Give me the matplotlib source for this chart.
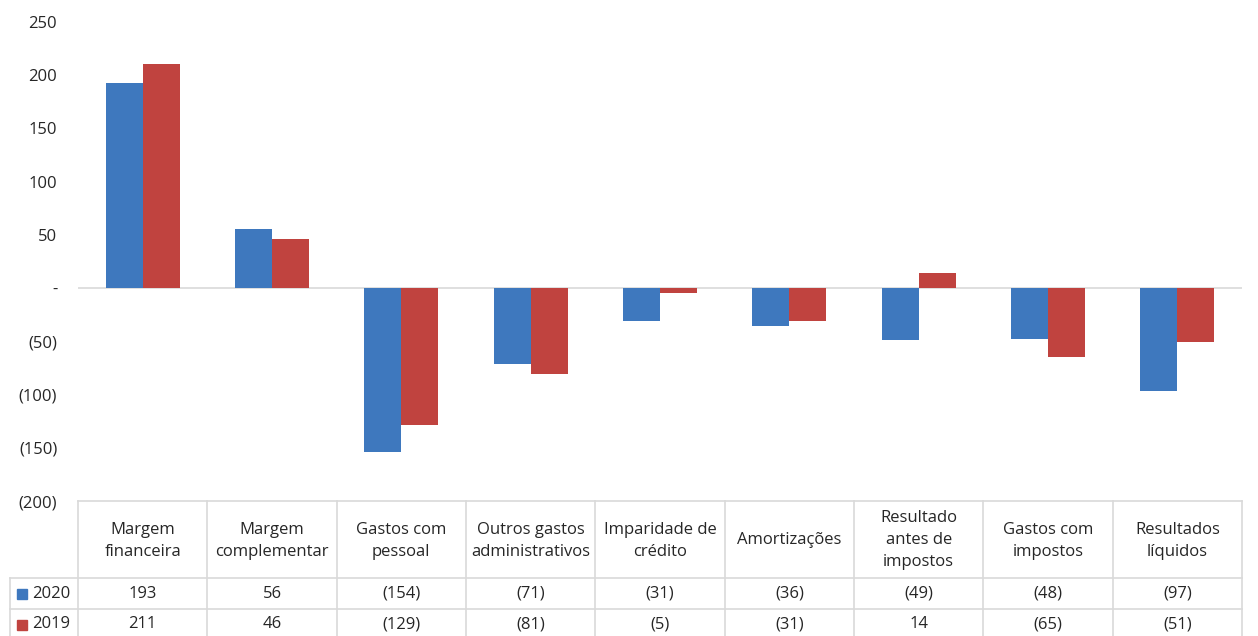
import matplotlib
matplotlib.use("Agg")
import matplotlib.pyplot as plt
import numpy as np

plt.rcParams['font.family'] = ['Open Sans', 'DejaVu Sans']

categories = ["Margem\nfinanceira", "Margem\ncomplementar", "Gastos com\npessoal",
              "Outros gastos\nadministrativos", "Imparidade de\ncrédito", "Amortizações",
              "Resultado\nantes de\nimpostos", "Gastos com\nimpostos", "Resultados\nlíquidos"]
series_names = ["2020", "2019"]
values_2020 = [193, 56, -154, -71, -31, -36, -49, -48, -97]
values_2019 = [211, 46, -129, -81, -5, -31, 14, -65, -51]
y_ticks = [250, 200, 150, 100, 50, 0, -50, -100, -150, -200]

colors = ["#3E78BE", "#C0433F"]
text_color = "#262626"
grid_color = "#D9D9D9"
fs = 12


def fmt(v):
    if v == 0:
        return "-"
    return f"({abs(v)})" if v < 0 else f"{v}"


W, H = 1258, 636
fig = plt.figure(figsize=(W / 100, H / 100), dpi=100)

left, right = 78 / W, 1242 / W
top_px, zero_bottom_px = 22, 501
ax = fig.add_axes([left, 1 - zero_bottom_px / H, right - left, (zero_bottom_px - top_px) / H])

x = np.arange(len(categories))
bw = 0.286
ax.bar(x - bw / 2, values_2020, width=bw, color=colors[0], edgecolor="none")
ax.bar(x + bw / 2, values_2019, width=bw, color=colors[1], edgecolor="none")
ax.axhline(0, color=grid_color, lw=1.2, zorder=0)

ax.set_xlim(-0.5, len(categories) - 0.5)
ax.set_ylim(-200, 250)
ax.set_yticks(y_ticks)
ax.set_yticklabels([fmt(v) for v in y_ticks], fontsize=fs, color=text_color)
ax.tick_params(axis="y", length=0, pad=15)
ax.tick_params(axis="x", length=0, labelbottom=False)
for s in ax.spines.values():
    s.set_visible(False)

# data table below the plot
tax = fig.add_axes([left, 0, right - left, (H - zero_bottom_px) / H])
tax.set_xlim(-0.5, len(categories) - 0.5)
tax.set_ylim(H - zero_bottom_px, 0)
tax.axis("off")

cat_px = (1242 - 78) / len(categories)
header_h, row_h = 77, 31
legend_left = -0.5 - (78 - 10) / cat_px
n = len(categories)
kw = dict(color=grid_color, lw=1.2, clip_on=False)

tax.plot([-0.5, n - 0.5], [0, 0], **kw)
for r in range(1, 4):
    yy = header_h + (r - 1) * row_h
    tax.plot([legend_left, n - 0.5], [yy, yy], **kw)
for i in range(n + 1):
    tax.plot([i - 0.5, i - 0.5], [0, header_h + 2 * row_h], **kw)
tax.plot([legend_left, legend_left], [header_h, header_h + 2 * row_h], **kw)

for i, c in enumerate(categories):
    tax.text(i, header_h / 2 + 1, c, ha="center", va="center", fontsize=fs,
             color=text_color, linespacing=1.5, clip_on=False)

for r, (name, vals) in enumerate(zip(series_names, [values_2020, values_2019])):
    yc = header_h + r * row_h + row_h / 2
    for i, v in enumerate(vals):
        tax.text(i, yc, fmt(v), ha="center", va="center", fontsize=fs,
                 color=text_color, clip_on=False)
    tax.text(legend_left + 22 / cat_px, yc, name, ha="left", va="center", fontsize=fs,
             color=text_color, clip_on=False)
    tax.add_patch(plt.Rectangle((legend_left + 7 / cat_px, yc - 5), 10 / cat_px, 10,
                                color=colors[r], clip_on=False))

fig.savefig("out.png", dpi=100)
